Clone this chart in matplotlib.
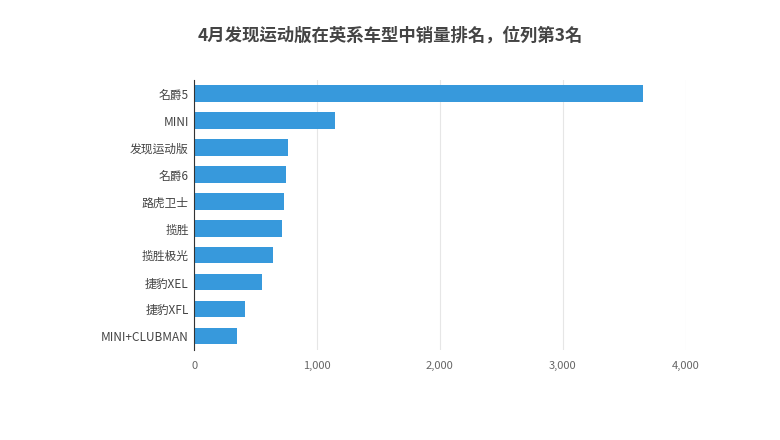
import matplotlib
matplotlib.use("Agg")
import matplotlib.pyplot as plt
from matplotlib import font_manager as fm
from matplotlib.ticker import FuncFormatter

cjk = [f.name for f in fm.fontManager.ttflist if "CJK" in f.name]
fam = cjk[0] if cjk else "DejaVu Sans"
for pref in ["Noto Sans CJK SC", "Noto Sans CJK JP"]:
    if pref in cjk:
        fam = pref
        break
plt.rcParams["font.family"] = [fam, "DejaVu Sans"]

categories = ["名爵5", "MINI", "发现运动版", "名爵6", "路虎卫士", "揽胜", "揽胜极光", "捷豹XEL", "捷豹XFL", "MINI+CLUBMAN"]
sales = [3650, 1146, 764, 748, 732, 715, 642, 553, 415, 350]
xticks = [0, 1000, 2000, 3000, 4000]

fig = plt.figure(figsize=(7.8, 4.4), dpi=100)
ax = fig.add_axes([0.249, 0.205, 0.63, 0.613])
y = list(range(len(categories)))
ax.barh(y, sales, height=0.6, color="#3799dc", zorder=2)
ax.set_yticks(y)
ax.set_yticklabels(categories, fontsize=8.5, color="#444444")
ax.set_ylim(len(categories) - 0.5, -0.5)
ax.set_xlim(0, 4000)
ax.set_xticks(xticks)
ax.xaxis.set_major_formatter(FuncFormatter(lambda v, p: f"{int(v):,}"))
ax.tick_params(axis="x", length=0, labelsize=8, colors="#666666", pad=8)
ax.tick_params(axis="y", length=0, pad=4)
ax.grid(axis="x", color="#e6e6e6", linewidth=0.8, zorder=0)
for s in ["top", "right", "bottom"]:
    ax.spines[s].set_visible(False)
ax.spines["left"].set_color("#333333")
ax.spines["left"].set_linewidth(0.8)
fig.text(0.5, 0.92, "4月发现运动版在英系车型中销量排名，位列第3名", ha="center", va="center",
         fontsize=12.5, fontweight="bold", color="#444444")
fig.savefig("out.png", dpi=100)
